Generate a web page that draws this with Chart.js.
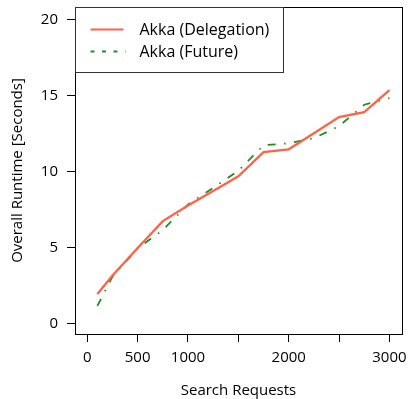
<!DOCTYPE html>
<html>
<head>
<meta charset="utf-8">
<script src="https://cdn.jsdelivr.net/npm/chart.js@4/dist/chart.umd.min.js"></script>
<style>
  html, body { margin: 0; padding: 0; background: #fff; }
  #wrap { width: 409px; height: 399px; position: relative; }
</style>
</head>
<body>
<div id="wrap"><canvas id="myChart"></canvas></div>
<script>
// search requests (x values)
const requests = [100, 250, 500, 750, 1000, 1250, 1500, 1750, 2000, 2250, 2500, 2750, 3000];
// runtime in seconds
const delegation = [1.94, 3.15, 4.97, 6.74, 7.77, 8.73, 9.69, 11.28, 11.47, 12.53, 13.6, 13.92, 15.37];
const future     = [1.15, 3.08, 4.95, 6.15, 7.84, 8.93, 10.05, 11.74, 11.87, 12.2, 13.0, 14.41, 14.85];

const xTicks = [0, 500, 1000, 1500, 2000, 2500, 3000];
const xTickLabels = ['0', '500', '1000', '', '2000', '', '3000'];
const yTicks = [0, 5, 10, 15, 20];

const seriesNames = ['Akka (Delegation)', 'Akka (Future)'];
const red = '#ff6347';
const green = '#228b22';

Chart.defaults.font.family = "'Open Sans'";
Chart.defaults.font.size = 15;
Chart.defaults.color = '#000';

// box around plot + legend inside the top left corner
const boxLegend = {
  id: 'boxLegend',
  afterDraw(chart) {
    const a = chart.chartArea;
    const c = chart.ctx;
    c.save();
    c.strokeStyle = '#000';
    c.lineWidth = 1;
    c.strokeRect(Math.round(a.left) + 0.5, Math.round(a.top) + 0.5,
                 Math.round(a.right - a.left), Math.round(a.bottom - a.top));

    const lx = Math.round(a.left) + 0.5, ly = Math.round(a.top) + 0.5;
    c.fillStyle = '#fff';
    c.fillRect(lx, ly, 208, 65);
    c.strokeStyle = '#333';
    c.strokeRect(lx, ly, 208, 65);

    c.lineWidth = 2;
    c.strokeStyle = red;
    c.beginPath(); c.moveTo(lx + 15, ly + 22); c.lineTo(lx + 48, ly + 22); c.stroke();
    c.strokeStyle = green;
    c.setLineDash([4, 7.5]);
    c.beginPath(); c.moveTo(lx + 15, ly + 44); c.lineTo(lx + 50, ly + 44); c.stroke();
    c.setLineDash([]);

    c.fillStyle = '#000';
    c.font = "16px 'Open Sans'";
    c.textBaseline = 'middle';
    c.fillText(seriesNames[0], lx + 64, ly + 23);
    c.fillText(seriesNames[1], lx + 64, ly + 45);
    c.restore();
  }
};

const ctx = document.getElementById('myChart').getContext('2d');

var chart = new Chart(ctx, {
  type: 'line',
  data: {
    datasets: [{
      label: seriesNames[0],
      data: requests.map((r, i) => ({x: r, y: delegation[i]})),
      borderColor: red,
      borderWidth: 2.3,
      pointRadius: 0,
      tension: 0,
      fill: false
    }, {
      label: seriesNames[1],
      data: requests.map((r, i) => ({x: r, y: future[i]})),
      borderColor: green,
      borderWidth: 1.8,
      borderDash: [8, 8.5, 1.5, 8.5],
      pointRadius: 0,
      tension: 0,
      fill: false
    }]
  },
  options: {
    responsive: true,
    maintainAspectRatio: false,
    animation: false,
    layout: {
      padding: {top: 7, right: 7, left: 0, bottom: 0}
    },
    plugins: {
      legend: { display: false },
      tooltip: { enabled: false }
    },
    scales: {
      x: {
        type: 'linear',
        min: -122,
        max: 3125,
        afterBuildTicks: s => { s.ticks = xTicks.map(v => ({value: v})); },
        afterFit: s => { s.height = 65; s.paddingLeft = 0; s.paddingRight = 0; },
        grid: { drawOnChartArea: false, tickLength: 8, color: '#000' },
        border: { color: '#000' },
        ticks: {
          autoSkip: false,
          maxRotation: 0,
          padding: 7,
          callback: (v) => xTickLabels[xTicks.indexOf(v)]
        },
        title: { display: true, text: 'Search Requests', padding: {top: 0, bottom: -1} }
      },
      y: {
        min: -0.7,
        max: 20.85,
        afterBuildTicks: s => { s.ticks = yTicks.map(v => ({value: v})); },
        afterFit: s => { s.width = 75; s.paddingTop = 0; s.paddingBottom = 0; },
        grid: { drawOnChartArea: false, tickLength: 8, color: '#000' },
        border: { color: '#000' },
        ticks: { padding: 9 },
        title: { display: true, text: 'Overall Runtime [Seconds]', padding: {top: 9, bottom: 0} }
      }
    }
  },
  plugins: [boxLegend]
});
</script>
</body>
</html>
